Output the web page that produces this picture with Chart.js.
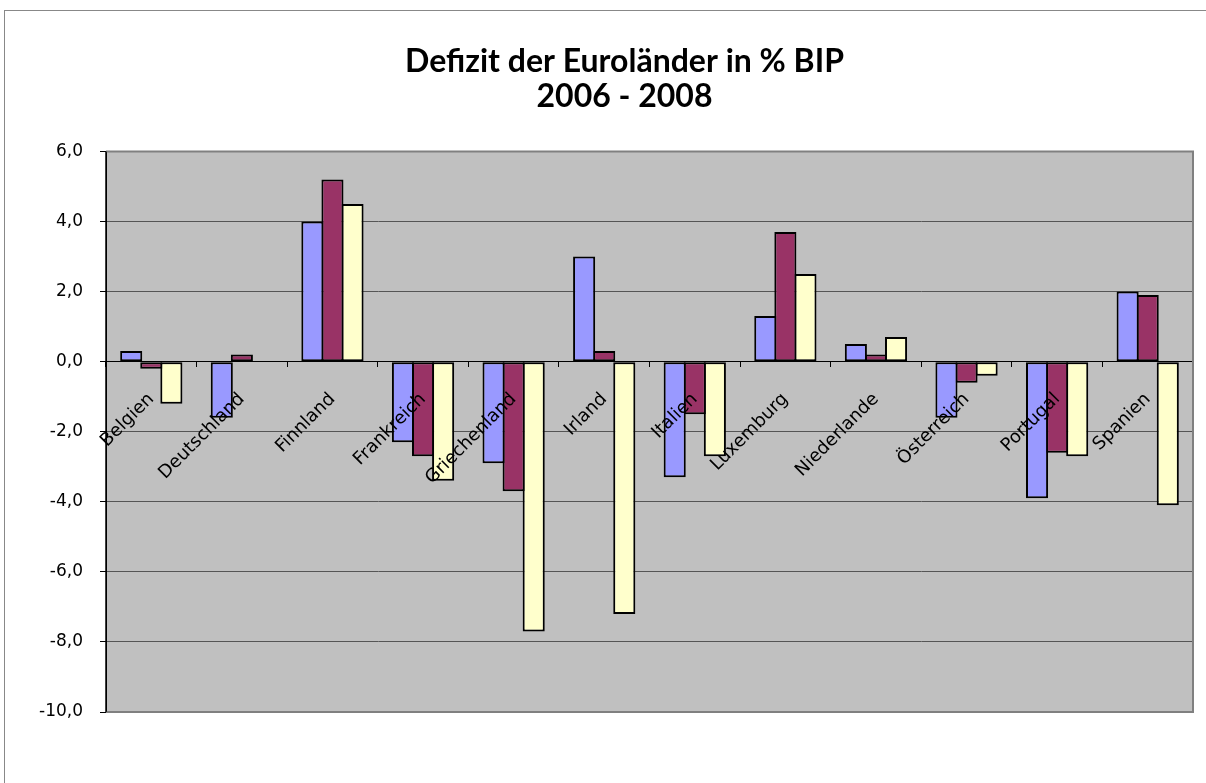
<!DOCTYPE html>
<html>
<head>
<meta charset="utf-8">
<script src="https://cdn.jsdelivr.net/npm/chart.js@4/dist/chart.umd.min.js"></script>
<style>
  html, body { margin: 0; padding: 0; background: #fff; overflow: hidden; }
  #wrap { position: absolute; left: 0; top: 0; width: 1206px; height: 783px; }
</style>
</head>
<body>
<div id="wrap"><canvas id="chart" width="1206" height="783"></canvas></div>
<script>
// Data
const countries = ['Belgien', 'Deutschland', 'Finnland', 'Frankreich', 'Griechenland', 'Irland',
  'Italien', 'Luxemburg', 'Niederlande', 'Österreich', 'Portugal', 'Spanien'];
const years = ['2006', '2007', '2008'];
const values2006 = [0.3, -1.6, 4.0, -2.3, -2.9, 3.0, -3.3, 1.3, 0.5, -1.6, -3.9, 2.0];
const values2007 = [-0.2, 0.2, 5.2, -2.7, -3.7, 0.3, -1.5, 3.7, 0.2, -0.6, -2.6, 1.9];
const values2008 = [-1.2, null, 4.5, -3.4, -7.7, -7.2, -2.7, 2.5, 0.7, -0.4, -2.7, -4.1];
const yTicks = [-10, -8, -6, -4, -2, 0, 2, 4, 6];
const titleLines = ['Defizit der Euroländer in % BIP', '2006 - 2008'];

const colors = ['#9999FF', '#993366', '#FFFFCC'];

// frame around whole chart and gray plot background/border
const frame = {
  id: 'frame',
  afterLayout(chart) {
    // title in the original sits a bit right of the canvas centre
    if (chart.titleBlock) chart.titleBlock.left = 56;
  },
  beforeDraw(chart) {
    const ctx = chart.ctx;
    const a = chart.chartArea;
    ctx.save();
    ctx.strokeStyle = '#888';
    ctx.lineWidth = 1;
    ctx.strokeRect(4.5, 10.5, 1300, 900);
    ctx.fillStyle = '#C0C0C0';
    ctx.fillRect(a.left, a.top, a.right - a.left, a.bottom - a.top);
    ctx.restore();
  },
  afterDatasetsDraw(chart) {
    const ctx = chart.ctx;
    const a = chart.chartArea;
    ctx.save();
    ctx.strokeStyle = '#808080';
    ctx.lineWidth = 2;
    ctx.beginPath();
    ctx.moveTo(a.left, a.top);
    ctx.lineTo(a.right, a.top);
    ctx.lineTo(a.right, a.bottom);
    ctx.lineTo(a.left, a.bottom);
    ctx.stroke();
    ctx.strokeStyle = '#000';
    ctx.lineWidth = 1.5;
    ctx.beginPath();
    ctx.moveTo(a.left, a.top);
    ctx.lineTo(a.left, a.bottom);
    ctx.stroke();
    ctx.restore();
  }
};

const seriesValues = [values2006, values2007, values2008];

new Chart(document.getElementById('chart'), {
  type: 'bar',
  data: {
    labels: countries,
    datasets: years.map((y, i) => ({
      label: y,
      data: seriesValues[i],
      backgroundColor: colors[i],
      borderColor: '#000',
      borderWidth: 2,
      borderSkipped: false,
      categoryPercentage: 0.665,
      barPercentage: 1.1
    }))
  },
  options: {
    responsive: false,
    animation: false,
    layout: { padding: { left: 0, right: 13, top: 44, bottom: 71 } },
    plugins: {
      legend: { display: false },
      tooltip: { enabled: false },
      title: {
        display: true,
        text: titleLines,
        color: '#000',
        font: { family: 'Lato', size: 32, weight: 'bold', lineHeight: 1.1 },
        padding: { top: 0, bottom: 37 }
      }
    },
    scales: {
      x: {
        position: { y: 0 },
        grid: { drawOnChartArea: false, drawTicks: true, tickLength: 5, color: '#000', offset: true },
        border: { display: true, color: '#000', width: 1 },
        ticks: {
          z: 1,
          color: '#000',
          autoSkip: false,
          minRotation: 45,
          maxRotation: 45,
          padding: 22,
          font: { family: 'DejaVu Sans', size: 18 }
        }
      },
      y: {
        min: -10,
        max: 6,
        afterBuildTicks(scale) { scale.ticks = yTicks.map(v => ({ value: v })); },
        afterFit(scale) { scale.width = 106; },
        grid: { color: '#555', lineWidth: 1, tickLength: 6, tickColor: '#000' },
        border: { display: true, color: '#000', width: 1 },
        ticks: {
          color: '#000',
          padding: 17,
          font: { family: 'DejaVu Sans', size: 17 },
          callback: v => v.toFixed(1).replace('.', ',')
        }
      }
    }
  },
  plugins: [frame]
});
</script>
</body>
</html>
